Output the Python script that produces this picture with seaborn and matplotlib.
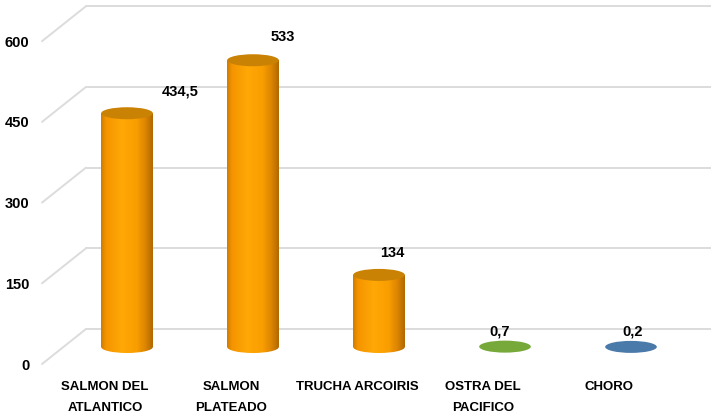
import numpy as np
import pandas as pd
import matplotlib
matplotlib.use("Agg")
import matplotlib.pyplot as plt
import seaborn as sns
from matplotlib.patches import Ellipse, ConnectionPatch
from matplotlib.colors import LinearSegmentedColormap

# ---------------- data ----------------
categories = ["SALMON DEL\nATLANTICO", "SALMON\nPLATEADO", "TRUCHA ARCOIRIS",
              "OSTRA DEL\nPACIFICO", "CHORO"]
values = [434.5, 533, 134, 0.7, 0.2]
value_labels = ["434,5", "533", "134", "0,7", "0,2"]
yticks = [0, 150, 300, 450, 600]

# ---------------- style ----------------
sns.set_theme(style="white")
FONT = ["Liberation Sans Narrow", "Liberation Sans", "DejaVu Sans"]
plt.rcParams["font.family"] = FONT

W, H = 711, 420
fig = plt.figure(figsize=(W / 100, H / 100), dpi=100)
fig.patch.set_facecolor("white")

YMAX = 600
scale = 0.538            # px per unit
ax_h = YMAX * scale
ax_w = 630


def make_ax(left_px, zero_px, z):
    a = fig.add_axes([left_px / W, (H - zero_px) / H, ax_w / W, ax_h / H], zorder=z)
    a.set_xlim(-0.5, 4.5)
    a.set_ylim(0, YMAX)
    a.patch.set_alpha(0)
    for s in a.spines.values():
        s.set_visible(False)
    return a


ax_back = make_ax(86, 329, 0)
ax = make_ax(64, 347, 2)
ax_front = make_ax(42, 364, 1)

# back wall gridlines
ax_back.set_xticks([])
ax_back.set_yticks(yticks)
ax_back.set_yticklabels([])
ax_back.tick_params(length=0)
GRID = "#dcdcdc"
for v in yticks:
    ax_back.axhline(v, color=GRID, lw=1.4, clip_on=False)
    con = ConnectionPatch(xyA=(-0.5, v), coordsA=ax_front.transData,
                          xyB=(-0.5, v), coordsB=ax_back.transData,
                          color=GRID, lw=1.4)
    fig.add_artist(con)

# front axis: tick labels and categories
ax_front.set_yticks(yticks)
ax_front.set_yticklabels([str(t) for t in yticks], fontsize=10.5,
                         fontweight="bold", color="black", family=FONT)
ax_front.tick_params(axis="y", length=0, pad=9)
ax_front.set_xticks(range(len(categories)))
ax_front.set_xticklabels(categories, fontsize=9.5, fontweight="bold",
                         color="black", family=FONT, linespacing=2.0)
ax_front.tick_params(axis="x", length=0, pad=12)

# ---------------- bars ----------------
df = pd.DataFrame({"cat": categories, "val": values})
bar_colors = ["#FFA000", "#FFA000", "#FFA000", "#77A83A", "#4A7AAA"]
top_colors = ["#C98204", "#C98204", "#C98204", "#6E9E34", "#4776A3"]
sns.barplot(data=df, x="cat", y="val", hue="cat", palette=bar_colors,
            width=0.41, legend=False, ax=ax, saturation=1)
ax.set_xlim(-0.5, 4.5)
ax.set_ylim(0, YMAX)
ax.set_xticks([])
ax.set_yticks([])
ax.set_xlabel("")
ax.set_ylabel("")

cyl = LinearSegmentedColormap.from_list(
    "cyl", [(0.0, "#D07C00"), (0.1, "#F59500"), (0.4, "#FFA806"),
            (0.68, "#FA9E00"), (0.85, "#DD8600"), (1.0, "#B06800")])
grad = np.linspace(0, 1, 256).reshape(1, -1)
ell_h = 12 / scale

for i, p in enumerate(list(ax.patches)):
    x0 = p.get_x()
    w = p.get_width()
    h = p.get_height()
    cx = x0 + w / 2
    p.set_alpha(0)
    if h * scale > 6:
        im = ax.imshow(grad, cmap=cyl, aspect="auto",
                       extent=(x0, x0 + w, -ell_h, h), zorder=3)
        im.set_clip_box(fig.bbox)
        im.set_clip_path(p)
        bot = Ellipse((cx, 0), w, ell_h, transform=ax.transData,
                      facecolor="none", edgecolor="none", zorder=3,
                      clip_on=False)
        ax.add_patch(bot)
        im2 = ax.imshow(grad, cmap=cyl, aspect="auto",
                        extent=(x0, x0 + w, -ell_h, h), zorder=3)
        im2.set_clip_box(fig.bbox)
        im2.set_clip_path(bot)
        top = Ellipse((cx, h), w, ell_h, transform=ax.transData,
                      facecolor=top_colors[i], edgecolor="none", zorder=4,
                      clip_on=False)
        ax.add_patch(top)
    else:
        e = Ellipse((cx, h), w, ell_h, transform=ax.transData,
                    facecolor=bar_colors[i], edgecolor="none", zorder=4,
                    clip_on=False)
        ax.add_patch(e)

ax.set_xlim(-0.5, 4.5)
ax.set_ylim(0, YMAX)

# value labels (offset in pixels from bar top centre)
label_dx = [53, 30, 13, -5, 2]
label_dy = [22, 23, 22, 15, 15]
for i, (v, lab) in enumerate(zip(values, value_labels)):
    ax.annotate(lab, xy=(i, v), xytext=(label_dx[i] * 0.72, label_dy[i] * 0.72),
                textcoords="offset points", ha="center", va="center",
                fontsize=10.5, fontweight="bold", color="black",
                family=FONT, annotation_clip=False, zorder=6)

fig.savefig("out.png", dpi=100, facecolor="white")
